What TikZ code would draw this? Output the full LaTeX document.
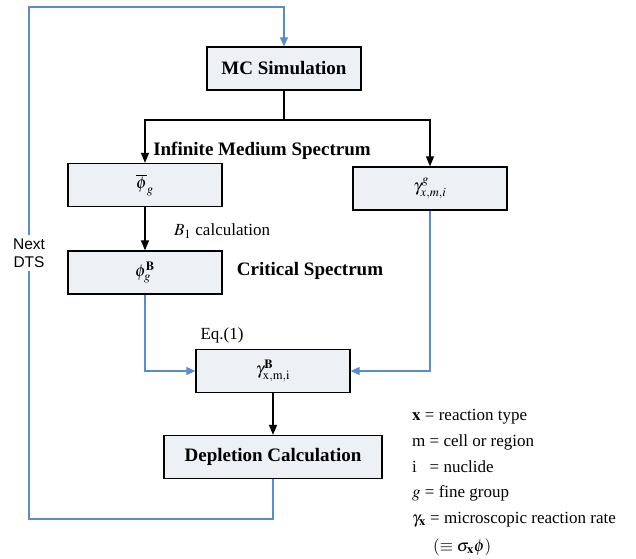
\documentclass[tikz,border=0pt]{standalone}
\usepackage{mathptmx}
\usepackage{fontspec}
\setmainfont{Liberation Serif}
\newfontfamily\arialfont{Liberation Sans}
\usetikzlibrary{arrows.meta}
\definecolor{boxfill}{HTML}{EDF0F5}
\definecolor{linkblue}{HTML}{5A8AD0}
\tikzset{
  stagebox/.style={draw, line width=1.3pt, fill=boxfill, minimum width=154pt, minimum height=43pt, inner sep=0pt},
  blackarrow/.style={line width=1.2pt, -{Triangle[length=10pt,width=8pt]}},
  bluearrow/.style={linkblue, line width=1.1pt, -{Triangle[length=9pt,width=8pt]}},
  heading/.style={font=\fontsize{19}{22}\selectfont\bfseries},
  legend/.style={anchor=base west, inner sep=0pt}
}
\begin{document}
\begin{tikzpicture}[x=1pt, y=-1pt, font=\fontsize{17}{20}\selectfont]
  \useasboundingbox (0,0) rectangle (636,558);
  \node[stagebox, heading] (mc) at (284,68.5) {MC Simulation};
  \node[stagebox] (phibar) at (145,185) {$\overline{\phi}_{g}$};
  \node[stagebox] (gammag) at (430,188.5) {$\gamma^{g}_{x,m,i}$};
  \node[stagebox] (phiB) at (145,272.5) {$\phi^{\mathbf{B}}_{g}$};
  \node[stagebox] (gammaB) at (273,371) {$\gamma^{\mathbf{B}}_{\mathrm{x,m,i}}$};
  \node[stagebox, heading, minimum width=218pt] (depl) at (273,457) {Depletion Calculation};

  \coordinate (split) at (284,120);
  \coordinate (fbL) at (29,519);
  \coordinate (fbT) at (29,7);

  \draw[line width=1.2pt] (mc.south) -- (split);
  \draw[blackarrow] (split) -| (phibar.north);
  \draw[blackarrow] (split) -| (gammag.north);
  \draw[blackarrow] (phibar.south) -- (phiB.north);
  \draw[bluearrow] (phiB.south) |- (gammaB.west);
  \draw[bluearrow] (gammag.south) |- (gammaB.east);
  \draw[blackarrow] (gammaB.south) -- (depl.north);
  \draw[bluearrow] (depl.south) |- (fbL) -- (fbT) -| (mc.north);

  \node[fill=white, align=center, inner sep=3pt, font=\arialfont\fontsize{15.5}{18.5}\selectfont] (nextdts) at (29,253) {Next\\DTS};

  \node[heading] (infinite) at (262,151) {Infinite Medium Spectrum};
  \node (b1calc) at (222,231) {$B_{1}$ calculation};
  \node[heading] (critical) at (310,271) {Critical Spectrum};
  \node (eq) at (222,335) {Eq.(1)};

  \node[legend] (lx) at (412,420) {$\mathbf{x}$ = reaction type};
  \node[legend] (lm) at (412,446) {m = cell or region};
  \node[legend] (li) at (412,472) {i\ \ \ = nuclide};
  \node[legend] (lg) at (412,497) {$g$ = fine group};
  \node[legend] (lgamma) at (412,523) {$\gamma_{\mathbf{x}}$ = microscopic reaction rate};
  \node[legend] (lsigma) at (433,551) {$(\equiv\sigma_{\mathbf{x}}\phi)$};
\end{tikzpicture}
\end{document}
